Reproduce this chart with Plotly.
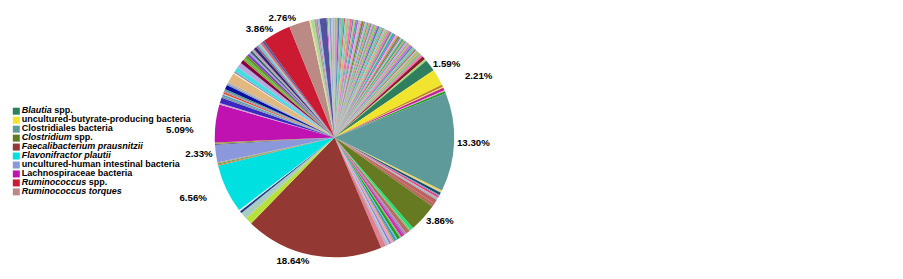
import plotly.graph_objects as go

# ---- labelled taxa (legend order) ----
legend_names = [
    "<i>Blautia</i> spp.",
    "uncultured-butyrate-producing bacteria",
    "Clostridiales bacteria",
    "<i>Clostridium</i> spp.",
    "<i>Faecalibacterium prausnitzii</i>",
    "<i>Flavonifractor plautii</i>",
    "uncultured-human intestinal bacteria",
    "Lachnospiraceae bacteria",
    "<i>Ruminococcus</i> spp.",
    "<i>Ruminococcus torques</i>",
]
legend_values = [1.59, 2.21, 13.30, 3.86, 18.64, 6.56, 2.33, 5.09, 3.86, 2.76]
legend_colors = ["#2F7F5F", "#F0E42E", "#5F9A9A", "#667A22", "#943833",
                 "#00E0E0", "#8C98DC", "#C012B0", "#CC1A33", "#BC8A84"]

# ---- minor taxa (unlabelled slices), grouped by position in the pie ----
thin_palette = ["#9ACD32", "#DA70D6", "#4682B4", "#A9A9A9", "#66CDAA", "#CD5C5C",
                "#87CEEB", "#BDB76B", "#8FBC8F", "#FF69B4", "#778899", "#D2B48C",
                "#20B2AA", "#BA55D3", "#B0C4DE", "#F08080", "#6B8E23", "#9370DB",
                "#C0C0C0", "#3CB371", "#E9967A", "#5F9EA0", "#DDA0DD", "#A0A0A0"]

minor_a = [0.30, 0.15, 0.25, 0.20, 0.35, 0.18, 0.22, 0.28, 0.15, 0.30,
           0.20, 0.25, 0.18, 0.22, 0.30, 0.15, 0.25, 0.20, 0.28, 0.18,
           0.22, 0.25, 0.15, 0.30, 0.20, 0.18, 0.25, 0.22, 0.28, 0.15,
           0.20, 0.25, 0.18, 0.22, 0.30, 0.15, 0.25, 0.20, 0.18, 0.22,
           0.25, 0.15, 0.20, 0.28, 0.18, 0.22, 0.25, 0.20, 0.15, 0.30,
           0.22, 0.18, 0.25, 0.20, 0.15, 0.35, 0.40, 0.30, 0.45, 0.30]
minor_a_colors = [thin_palette[i % len(thin_palette)] for i in range(len(minor_a) - 2)] + ["#8B1A2A", "#A8D878"]

minor_b = [0.30, 0.15, 0.35, 0.15, 0.30]
minor_b_colors = ["#C08020", "#F0E060", "#C020A0", "#E0A0C0", "#20A020"]

minor_c = [0.20, 0.15, 0.35, 0.15, 0.25, 0.15, 0.20, 0.55, 0.50]
minor_c_colors = ["#F0D040", "#D0D0A0", "#1A4A6A", "#60A0C0", "#E04080",
                  "#E090B0", "#80C0C0", "#C06060", "#B86A5A"]

minor_d = [0.40, 0.20, 0.55, 0.30, 0.15, 0.35, 0.20, 0.40, 0.15, 0.30,
           0.20, 0.35, 0.25, 0.20, 0.30, 0.70]
minor_d_colors = ["#20E070", "#80C080", "#B0705A", "#C080C0", "#6060C0", "#E020A0",
                  "#A0A0A0", "#20A020", "#60D0A0", "#4090D0", "#A0A060", "#F0A0B0",
                  "#8080E0", "#C0C0C0", "#B0B0D0", "#E08090"]

minor_e = [0.95, 0.95, 0.30, 0.20]
minor_e_colors = ["#B8E03A", "#A8CCC4", "#1A3A8A", "#E0F0F0"]

minor_f = [0.15, 0.15, 0.15]
minor_f_colors = ["#E08040", "#40A040", "#C0A080"]

minor_g = [0.15, 0.20]
minor_g_colors = ["#606090", "#A0A040"]

minor_h = [0.20, 0.75, 0.20, 0.25, 0.15, 0.20, 0.20, 0.25, 0.60, 0.20,
           0.25, 1.30, 0.15, 0.20, 0.65, 0.70, 0.50, 0.30, 0.20, 0.30,
           0.35, 0.25, 0.30, 0.34, 0.40, 0.25, 0.30, 0.20, 0.30, 0.30]
minor_h_colors = ["#D0A0D0", "#3A28C0", "#8090A0", "#50A0B0", "#C0C0C0", "#F04020",
                  "#9090C0", "#60A080", "#0A10A0", "#8098C0", "#B0B0B0", "#E0B880",
                  "#F0F0C0", "#A080C0", "#40E0E0", "#B8A8E0", "#800040", "#90A030",
                  "#40C040", "#6A8A20", "#8040C0", "#A0A0E0", "#306060", "#C0A0C0",
                  "#302870", "#A06080", "#60C0E0", "#C0C0A0", "#E06080", "#4060A0"]

minor_i = [0.20, 0.45, 0.29, 0.20, 0.25, 0.95, 0.15, 0.20, 0.25, 0.15, 0.30]
minor_i_colors = ["#E0E0A0", "#B0D890", "#A0A0A0", "#C080A0", "#90C0E0", "#5252A0",
                  "#E060C0", "#A0E0A0", "#80A0D0", "#D0B0B0", "#B0B0E0"]

# label placement tweaks (padding in non-breaking spaces, by legend index)
pad_before = {1: 9}
pad_after = {5: 5, 7: 6}
drop_line = {5, 7}

# ---- assemble slices in clockwise order starting at 12 o'clock ----
labels, values, colors, texts, positions = [], [], [], [], []
counter = [0]


def add_minor(vals, cols):
    for v, c in zip(vals, cols):
        counter[0] += 1
        labels.append(f"other taxon {counter[0]}")
        values.append(v)
        colors.append(c)
        texts.append("")
        positions.append("none")


def add_major(i):
    labels.append(legend_names[i])
    values.append(legend_values[i])
    colors.append(legend_colors[i])
    t = "&nbsp;" * pad_before.get(i, 0) + f"{legend_values[i]:.2f}%" + "&nbsp;" * pad_after.get(i, 0)
    t = f'<span style="color:#000000">{t}</span>'
    if i in drop_line:
        t = "&nbsp;<br>" + t
    texts.append(t)
    positions.append("outside")


add_minor(minor_a, minor_a_colors)
add_major(0)
add_major(1)
add_minor(minor_b, minor_b_colors)
add_major(2)
add_minor(minor_c, minor_c_colors)
add_major(3)
add_minor(minor_d, minor_d_colors)
add_major(4)
add_minor(minor_e, minor_e_colors)
add_major(5)
add_minor(minor_f, minor_f_colors)
add_major(6)
add_minor(minor_g, minor_g_colors)
add_major(7)
add_minor(minor_h, minor_h_colors)
add_major(8)
add_major(9)
add_minor(minor_i, minor_i_colors)

# page body has an 8px margin, so the figure is 16px smaller than the window
PAD = 8
W, H = 903 - 2 * PAD, 279 - 2 * PAD
cx, cy, r = 334.5 - PAD, 136.5 - PAD, 123.5

fig = go.Figure()
fig.add_trace(go.Pie(
    labels=labels, values=values, text=texts, textinfo="text",
    textposition=positions, sort=False, direction="clockwise", rotation=0,
    marker=dict(colors=colors, line=dict(width=0)),
    # font colour white so any label connector line is invisible; text itself is black via span
    outsidetextfont=dict(family="Liberation Sans, Arial", size=9.7, color="#FFFFFF", weight="bold"),
    domain=dict(x=[(cx - r) / W, (cx + r) / W], y=[(H - cy - r) / H, (H - cy + r) / H]),
    showlegend=False, hoverinfo="label+percent",
))

# legend drawn as a marker+text column
rows = list(range(len(legend_names)))
fig.add_trace(go.Scatter(
    x=[0] * len(rows), y=rows, mode="markers+text",
    marker=dict(symbol="square", size=7, color=legend_colors, line=dict(width=0)),
    text=legend_names, textposition="middle right",
    textfont=dict(family="Liberation Sans, Arial", size=9, color="#000000", weight="bold"),
    cliponaxis=False, showlegend=False, hoverinfo="skip",
))

top_px, bot_px = 104.68 - PAD, 197.12 - PAD
fig.update_layout(
    width=W, height=H,
    margin=dict(l=0, r=0, t=0, b=0),
    paper_bgcolor="white", plot_bgcolor="white",
    xaxis=dict(domain=[(16.3 - PAD) / W, 0.3], range=[0, 1], visible=False, fixedrange=True),
    yaxis=dict(domain=[(H - bot_px) / H, (H - top_px) / H], range=[9.5, -0.5],
               visible=False, fixedrange=True),
)

fig.write_html("out.html")
